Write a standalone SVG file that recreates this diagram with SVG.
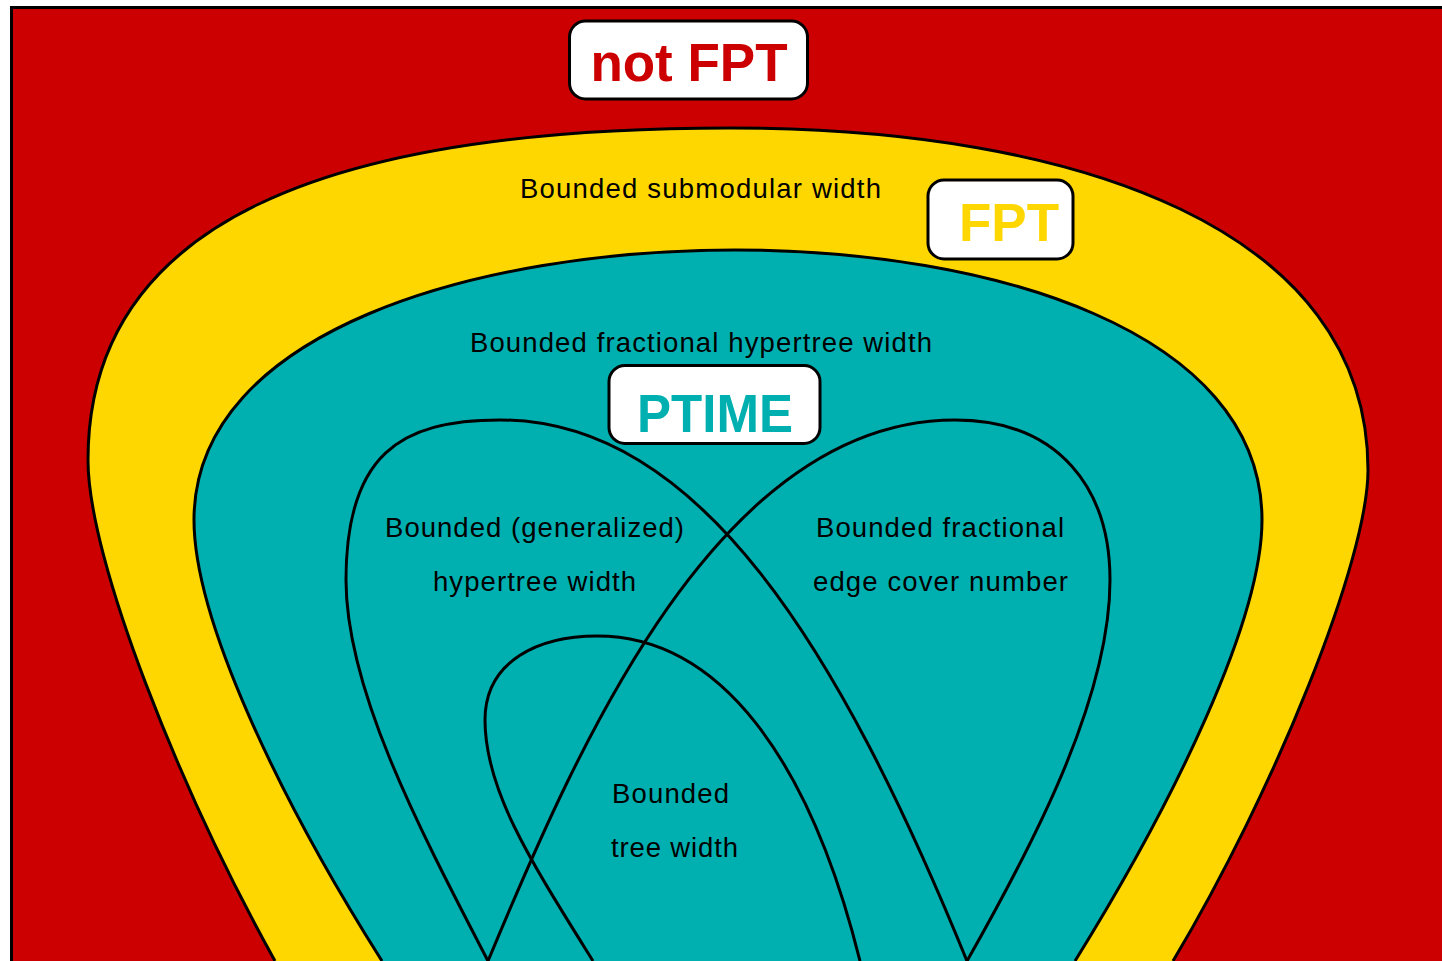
<svg xmlns="http://www.w3.org/2000/svg" width="1442" height="961" viewBox="0 0 1442 961">
<style>
.ln{fill:none;stroke:#000;stroke-width:3}
.lbl{font-family:"Liberation Sans",Arial,sans-serif;font-size:27.5px;letter-spacing:1px;fill:#000}
.big{font-family:"Liberation Sans",Arial,sans-serif;font-size:53px;font-weight:bold;text-anchor:middle}
.box{fill:#fff;stroke:#000;stroke-width:3}
</style>
<rect width="1442" height="961" fill="#fff"/>
<g id="notfpt-region">
<rect x="11.5" y="7.5" width="1460" height="990" fill="#CC0000" stroke="#000" stroke-width="3"/>
</g>
<g id="fpt-region">
<path d="M 275 961 C 180 790, 88 560, 88 460 C 88 220, 330 128, 730 128 C 1080 128, 1368 230, 1368 470 C 1368 560, 1275 790, 1173 961" fill="#FFD700" stroke="#000" stroke-width="3"/>
</g>
<g id="ptime-region">
<path d="M 382 961 C 280 800, 194 620, 194 520 C 194 330, 480 250, 735 250 C 990 250, 1262 330, 1262 520 C 1262 620, 1175 800, 1075 961" fill="#00B0B0" stroke="#000" stroke-width="3"/>
</g>
<g id="connectors">
<path id="hypertree" class="ln" d="M 488 961 C 420 830, 346 690, 346 580 C 346 455, 400 420, 500 420 C 700 420, 840 650, 967 961"/>
<path id="edgecover" class="ln" d="M 488 961 C 580 740, 720 420, 955 420 C 1060 420, 1110 490, 1110 580 C 1110 700, 1030 850, 967 961"/>
<path id="treewidth" class="ln" d="M 593 961 C 530 860, 485 790, 485 720 C 485 660, 540 636, 597 636 C 720 636, 810 760, 860 961"/>
</g>
<g id="label-submodular"><text class="lbl" x="520" y="198" textLength="362" lengthAdjust="spacing">Bounded submodular width</text></g>
<g id="label-fhw"><text class="lbl" x="470" y="352" textLength="463" lengthAdjust="spacing">Bounded fractional hypertree width</text></g>
<g id="label-ghw"><text class="lbl" x="385" y="537" textLength="300" lengthAdjust="spacing">Bounded (generalized)</text><text class="lbl" x="433" y="591" textLength="204" lengthAdjust="spacing">hypertree width</text></g>
<g id="label-edge"><text class="lbl" x="816" y="537" textLength="249" lengthAdjust="spacing">Bounded fractional</text><text class="lbl" x="813" y="591" textLength="256" lengthAdjust="spacing">edge cover number</text></g>
<g id="label-tw"><text class="lbl" x="612" y="803" textLength="118" lengthAdjust="spacing">Bounded</text><text class="lbl" x="611" y="857" textLength="128" lengthAdjust="spacing">tree width</text></g>
<g id="box-notfpt"><rect class="box" x="569.5" y="21" width="238" height="78" rx="16"/><text class="big" x="689" y="81" fill="#CC0000">not FPT</text></g>
<g id="box-fpt"><rect class="box" x="928" y="180" width="145" height="79" rx="16"/><text class="big" x="1009" y="241" fill="#FFD700">FPT</text></g>
<g id="box-ptime"><rect class="box" x="609" y="365.5" width="211" height="78" rx="16"/><text class="big" x="715" y="432" fill="#00B0B0" textLength="156" lengthAdjust="spacingAndGlyphs">PTIME</text></g>
</svg>
